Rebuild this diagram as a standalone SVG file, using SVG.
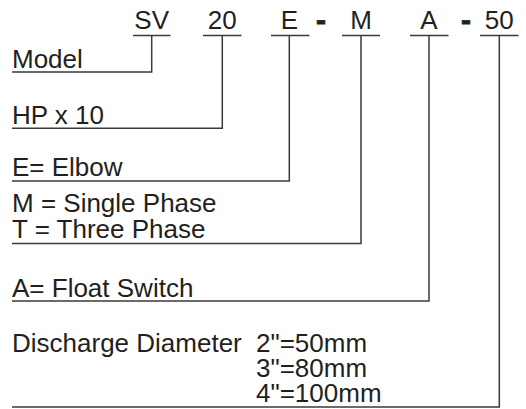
<svg xmlns="http://www.w3.org/2000/svg" width="526" height="409" viewBox="0 0 526 409">
<style>
text{font-family:"Liberation Sans",Arial,sans-serif;font-size:26px;fill:#231f20}
.dash{font-weight:bold;font-size:30px;stroke:#231f20;stroke-width:0.8}
.ln{fill:none;stroke:#3a3a3a;stroke-width:1.5}
</style>
<rect width="526" height="409" fill="#fff"/>
<g id="code-SV"><text x="151.7" y="28.5" text-anchor="middle">SV</text><line class="ln" x1="133" y1="35.5" x2="170.5" y2="35.5"/></g>
<g id="code-20"><text x="222.3" y="28.5" text-anchor="middle">20</text><line class="ln" x1="203" y1="35.5" x2="241.5" y2="35.5"/></g>
<g id="code-E"><text x="289.3" y="28.5" text-anchor="middle">E</text><line class="ln" x1="271" y1="35.5" x2="309.5" y2="35.5"/></g>
<text class="dash" x="321" y="30" text-anchor="middle">-</text>
<g id="code-M"><text x="361" y="28.5" text-anchor="middle">M</text><line class="ln" x1="342" y1="35.5" x2="380" y2="35.5"/></g>
<g id="code-A"><text x="429" y="28.5" text-anchor="middle">A</text><line class="ln" x1="410" y1="35.5" x2="448.5" y2="35.5"/></g>
<text class="dash" x="466" y="30" text-anchor="middle">-</text>
<g id="code-50"><text x="499.3" y="28.5" text-anchor="middle">50</text><line class="ln" x1="480" y1="35.5" x2="518.5" y2="35.5"/></g>
<g id="label-model"><text x="12" y="68">Model</text></g>
<g id="label-hp"><text x="12" y="123.5">HP x 10</text></g>
<g id="label-elbow"><text x="12" y="175.5">E= Elbow</text></g>
<g id="label-phase"><text x="12" y="211.5">M = Single Phase</text><text x="12" y="238">T = Three Phase</text></g>
<g id="label-float"><text x="12" y="296.5">A= Float Switch</text></g>
<g id="label-discharge"><text x="12" y="351.5">Discharge Diameter</text><text x="256" y="351.5">2"=50mm</text><text x="256" y="376.5">3"=80mm</text><text x="256" y="401.5">4"=100mm</text></g>
<g id="connectors">
<polyline class="ln" points="151.7,35.5 151.7,72 12,72"/>
<polyline class="ln" points="222.3,35.5 222.3,128.3 12,128.3"/>
<polyline class="ln" points="289.3,35.5 289.3,181 12,181"/>
<polyline class="ln" points="361,35.5 361,243.5 12,243.5"/>
<polyline class="ln" points="429,35.5 429,301 12,301"/>
<polyline class="ln" points="499.3,35.5 499.3,407 12,407"/>
</g>
</svg>
